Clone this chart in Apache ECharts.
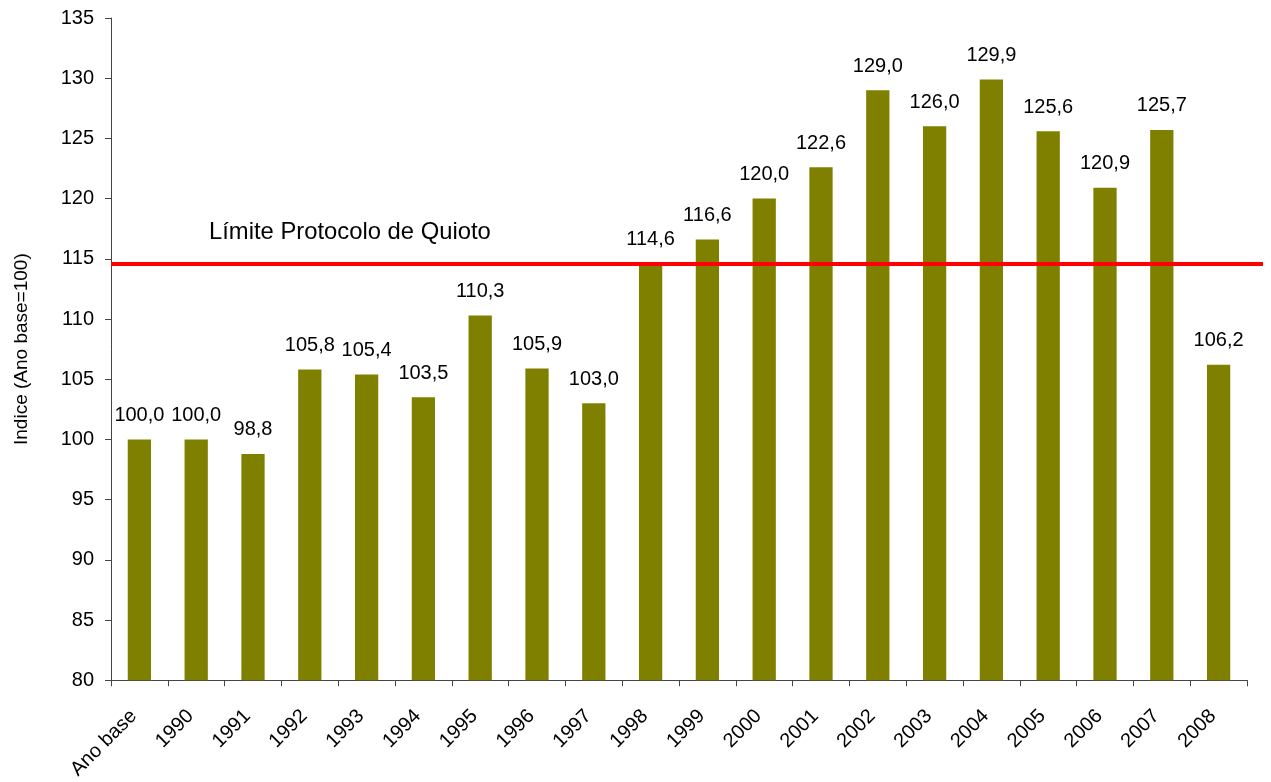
<!DOCTYPE html>
<html>
<head>
<meta charset="utf-8">
<script src="https://cdn.jsdelivr.net/npm/echarts@6/dist/echarts.min.js"></script>
<style>html,body{margin:0;padding:0;background:#fff}#c{width:1271px;height:782px}</style>
</head>
<body>
<div id="c"></div>
<script>
const categories = ['Ano base','1990','1991','1992','1993','1994','1995','1996','1997','1998','1999','2000','2001','2002','2003','2004','2005','2006','2007','2008'];
const values = [100.0,100.0,98.8,105.8,105.4,103.5,110.3,105.9,103.0,114.6,116.6,120.0,122.6,129.0,126.0,129.9,125.6,120.9,125.7,106.2];
const limitValue = 114.6;
const limitLabel = 'Límite Protocolo de Quioto';
const yTitle = 'Indice (Ano base=100)';

const chart = echarts.init(document.getElementById('c'));
const font = 'Liberation Sans, Arial, sans-serif';
chart.setOption({
  animation: false,
  title: {
    text: limitLabel, left: 204, top: 215,
    textStyle: {fontFamily: font, fontSize: 23.8, fontWeight: 'normal', color: '#000'}
  },
  grid: [
    {left: 111, right: 24, top: 18, bottom: 101, containLabel: false},
    {left: 111, right: 8, top: 18, bottom: 101, containLabel: false}
  ],
  xAxis: [
    {
      type: 'category', data: categories, gridIndex: 0,
      axisLine: {lineStyle: {color: '#444', width: 1}},
      axisTick: {show: true, length: 6, alignWithLabel: false, lineStyle: {color: '#444'}},
      axisLabel: {
        rotate: 45, fontFamily: font, fontSize: 20, color: '#000', margin: 13, interval: 0,
        align: 'right', verticalAlign: 'top', padding: [0, 18, 0, 0]
      }
    },
    {type: 'value', gridIndex: 1, min: 0, max: 1, show: false}
  ],
  yAxis: [
    {
      type: 'value', gridIndex: 0, min: 80, max: 135, interval: 5,
      name: yTitle, nameLocation: 'middle', nameGap: 80, nameRotate: 90,
      nameTextStyle: {fontFamily: font, fontSize: 19, color: '#000'},
      axisLine: {show: true, lineStyle: {color: '#444'}},
      axisTick: {show: true, length: 6, lineStyle: {color: '#444'}},
      axisLabel: {fontFamily: font, fontSize: 20, color: '#000', margin: 17},
      splitLine: {show: false}
    },
    {type: 'value', gridIndex: 1, min: 80, max: 135, show: false}
  ],
  series: [
    {
      type: 'bar', data: values, xAxisIndex: 0, yAxisIndex: 0,
      barWidth: '41%',
      itemStyle: {color: '#808000'},
      label: {
        show: true, position: 'top', distance: 14,
        fontFamily: font, fontSize: 20, color: '#000',
        formatter: p => p.value.toFixed(1).replace('.', ',')
      }
    },
    {
      type: 'line', xAxisIndex: 1, yAxisIndex: 1,
      data: [[0, limitValue], [1, limitValue]],
      symbol: 'none', z: 5,
      lineStyle: {color: '#ff0000', width: 4}
    }
  ]
});
</script>
</body>
</html>
